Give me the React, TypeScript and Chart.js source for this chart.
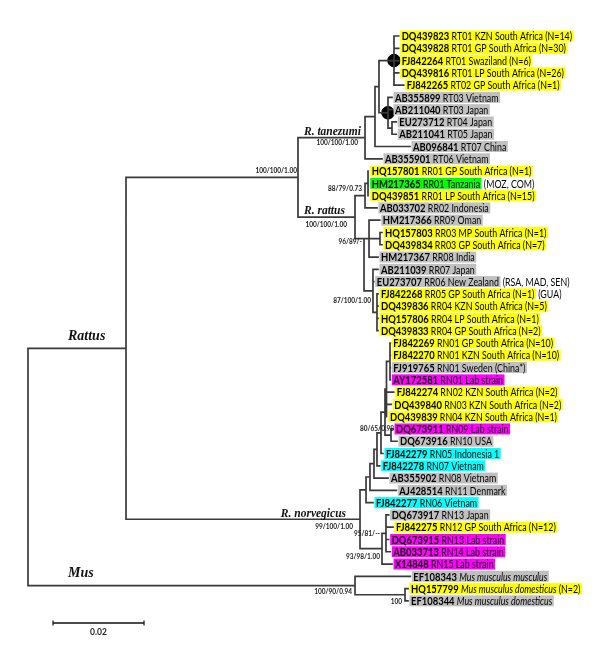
import React, { useEffect, useRef } from 'react';
import { Chart, registerables } from 'chart.js';

Chart.register(...registerables);

// ================= DATA =================
const leafAccessions: string[] = [
  'DQ439823', 'DQ439828', 'FJ842264', 'DQ439816', 'FJ842265', 'AB355899', 'AB211040', 'EU273712',
  'AB211041', 'AB096841', 'AB355901', 'HQ157801', 'HM217365', 'DQ439851', 'AB033702', 'HM217366',
  'HQ157803', 'DQ439834', 'HM217367', 'AB211039', 'EU273707', 'FJ842268', 'DQ439836', 'HQ157806',
  'DQ439833', 'FJ842269', 'FJ842270', 'FJ919765', 'AY172581', 'FJ842274', 'DQ439840', 'DQ439839',
  'DQ673911', 'DQ673916', 'FJ842279', 'FJ842278', 'AB355902', 'AJ428514', 'FJ842277', 'DQ673917',
  'FJ842275', 'DQ673915', 'AB033713', 'X14848', 'EF108343', 'HQ157799', 'EF108344',
];

const leafLabels: string[] = [
  'RT01 KZN South Africa (N=14)', 'RT01 GP South Africa (N=30)', 'RT01 Swaziland (N=6)',
  'RT01 LP South Africa (N=26)', 'RT02 GP South Africa (N=1)', 'RT03 Vietnam', 'RT03 Japan',
  'RT04 Japan', 'RT05 Japan', 'RT07 China', 'RT06 Vietnam', 'RR01 GP South Africa (N=1)',
  'RR01 Tanzania', 'RR01 LP South Africa (N=15)', 'RR02 Indonesia', 'RR09 Oman',
  'RR03 MP South Africa (N=1)', 'RR03 GP South Africa (N=7)', 'RR08 India', 'RR07 Japan',
  'RR06 New Zealand', 'RR05 GP South Africa (N=1)', 'RR04 KZN South Africa (N=5)',
  'RR04 LP South Africa (N=1)', 'RR04 GP South Africa (N=2)', 'RN01 GP South Africa (N=10)',
  'RN01 KZN South Africa (N=10)', 'RN01 Sweden (China*)', 'RN01 Lab strain',
  'RN02 KZN South Africa (N=2)', 'RN03 KZN South Africa (N=2)', 'RN04 KZN South Africa (N=1)',
  'RN09 Lab strain', 'RN10 USA', 'RN05 Indonesia 1', 'RN07 Vietnam', 'RN08 Vietnam',
  'RN11 Denmark', 'RN06 Vietnam', 'RN13 Japan', 'RN12 GP South Africa (N=12)', 'RN13 Lab strain',
  'RN14 Lab strain', 'RN15 Lab strain', 'Mus musculus musculus', 'Mus musculus domesticus',
  'Mus musculus domesticus',
];

const leafItalic: boolean[] = leafAccessions.map((_, i) => i >= 44);
const leafNotes: string[] = leafAccessions.map((_, i) => (i === 45 ? ' (N=2)' : ''));
const leafOutside: string[] = leafAccessions.map((_, i) =>
  i === 12 ? ' (MOZ, COM)' : i === 20 ? ' (RSA, MAD, SEN)' : i === 21 ? ' (GUA)' : ''
);

// SA = southern Africa sample, REF = reference, TZ = Tanzania, LAB = lab strain, SEA = SE Asia
const leafHighlight: string[] = [
  'SA', 'SA', 'SA', 'SA', 'SA', 'REF', 'REF', 'REF', 'REF', 'REF', 'REF', 'SA', 'TZ', 'SA', 'REF',
  'REF', 'SA', 'SA', 'REF', 'REF', 'REF', 'SA', 'SA', 'SA', 'SA', 'SA', 'SA', 'REF', 'LAB', 'SA',
  'SA', 'SA', 'LAB', 'REF', 'SEA', 'SEA', 'REF', 'REF', 'SEA', 'REF', 'SA', 'LAB', 'LAB', 'LAB',
  'REF', 'SA', 'REF',
];

const leafParent: string[] = [
  'D1', 'D1', 'D1', 'D1', 'D1', 'D2', 'D2', 'T45', 'T45', 'T1', 'T0', 'RR01', 'RR01', 'RR01', 'R1',
  'A', 'RR03', 'RR03', 'A', 'R3', 'R3', 'RR04', 'RR04', 'RR04', 'RR04', 'NL', 'NL', 'NL', 'NL',
  'NK', 'NK', 'NK', 'NJ', 'NJ', 'NG', 'NF', 'NE', 'ND', 'NA', 'NC', 'NC', 'NC', 'NC', 'NB', 'M0',
  'M1', 'M1',
];

const leafBranch: number[] = [
  0.00103, 0.00103, 0.00103, 0.00103, 0.00213, 0.00088, 0.00088, 0.00095, 0.00095, 0.0077, 0.00373,
  0.00015, 0.00015, 0.00015, 0.00263, 0.00235, 0.00044, 0.00044, 0.00197, 0.0011, 0.00016,
  0.00022, 0.00022, 0.00022, 0.00022, 0.00007, 0.00007, 0.00007, 0.00007, 0.00158, 0.00106,
  0.00011, 0.00044, 0.00132, 0.00044, 0.0006, 0.00308, 0.00579, 0.00153, 0.00059, 0.00154,
  0.00059, 0.00095, 0.0022, 0.01215, 0.00066, 0.00066,
];

const nodeIds: string[] = [
  'root', 'RAT', 'TR', 'T0', 'T1', 'T2', 'D1', 'D2', 'T45', 'R0', 'R1', 'RR01', 'N96', 'A', 'RR03',
  'R3', 'RR04', 'N0', 'NA', 'ND', 'NE', 'NF', 'NG', 'NH', 'NK', 'NL', 'NJ', 'NB', 'NC', 'M0', 'M1',
];
const nodeParent: string[] = [
  '', 'root', 'RAT', 'TR', 'T0', 'T1', 'T2', 'T2', 'D2', 'TR', 'R0', 'R1', 'R0', 'N96', 'A', 'N96',
  'R3', 'RAT', 'N0', 'NA', 'ND', 'NE', 'NF', 'NG', 'NH', 'NK', 'NH', 'N0', 'NB', 'root', 'M0',
];
const nodeBranch: number[] = [
  0, 0.02154, 0.0378, 0.01473, 0.00219, 0.00088, 0.0033, 0.00198, 0.00088, 0.01253, 0.0022,
  0.00066, 0.00198, 0.0011, 0.00241, 0.00197, 0.00088, 0.05143, 0.00132, 0.00087, 0.00088,
  0.00066, 0.00088, 0.00088, 0.00033, 0.00077, 0.00132, 0.00483, 0.00088, 0.07187, 0.01099,
];
const nodeSupport: string[] = [
  '', '', '100/100/1.00', '100/100/1.00', '', '', '', '', '', '100/100/1.00', '88/79/0.73', '',
  '96/89/-', '', '', '87/100/1.00', '', '99/100/1.00', '', '', '', '', '', '', '', '', '80/65/0.98',
  '93/98/1.00', '95/81/--', '100/90/0.94', '100',
];

const cladeNames: string[] = ['Rattus', 'R. tanezumi', 'R. rattus', 'R. norvegicus', 'Mus'];
const cladeNodes: string[] = ['RAT', 'T0', 'R0', 'N0', 'M0'];
const markedNodes: string[] = ['D1', 'D2'];
const scaleBarValue = 0.02;
const scaleBarText = '0.02';

// ================= STYLE / LAYOUT =================
const W = 600;
const H = 659;
const X_MIN = -0.006154;
const X_MAX = 0.125714;
const Y_MIN = -2.9316;
const Y_MAX = 50.733;
const BRANCH_COLOR = '#3a3a3a';
const HIGHLIGHT: Record<string, string> = {
  SA: '#ffff00',
  REF: '#c0c0c0',
  TZ: '#00ff00',
  LAB: '#ff00ff',
  SEA: '#00ffff',
};
const LABEL_FAMILY = 'Lato, "DejaVu Sans", sans-serif';
const LABEL_SIZE = 11.5;
const ID_SCALE_X = 0.82;
const NAME_SCALE_X = 0.77;
const SUPPORT_FONT = 'bold 7px Lato, "DejaVu Sans", sans-serif';
const SUPPORT_SCALE_X = 0.93;
const CLADE_FAMILY = '"Liberation Serif", "DejaVu Serif", serif';
const anchorFirstChild = ['N96'];
const supportPlacement: Record<string, [number, number]> = {
  TR: [-1, -6.5],
  T0: [-7, 5],
  R1: [-3, -7],
  R0: [-8, 8],
  N96: [-2, 3],
  R3: [-2, 10],
  NJ: [3, -6],
  N0: [-7, 7.5],
  NC: [-6, 0],
  NB: [-2, 8],
  M0: [-3, 6],
  M1: [-3, 7],
};
const cladePlacement: Record<string, { align: 'left' | 'right'; from: 'parent' | 'node'; dx: number; dy: number; size: number }> = {
  RAT: { align: 'left', from: 'parent', dx: 40, dy: -11.5, size: 14 },
  T0: { align: 'left', from: 'parent', dx: 6, dy: -6, size: 11.5 },
  R0: { align: 'left', from: 'parent', dx: 6, dy: -6.5, size: 11.5 },
  N0: { align: 'right', from: 'node', dx: -14, dy: -5, size: 11.5 },
  M0: { align: 'left', from: 'parent', dx: 40, dy: -12.5, size: 14 },
};
const SCALEBAR_X = 0.0055;
const SCALEBAR_Y = 47.8;

// ================= TREE LAYOUT =================
type TNode = {
  id: string;
  parent: string;
  branch: number;
  children: TNode[];
  depth: number;
  y: number;
  lo: number;
  hi: number;
  leaf: number;
};

function buildTree() {
  const nodes: Record<string, TNode> = {};
  nodeIds.forEach((id, i) => {
    nodes[id] = { id, parent: nodeParent[i], branch: nodeBranch[i], children: [], depth: 0, y: 0, lo: 0, hi: 0, leaf: -1 };
  });
  leafAccessions.forEach((_, i) => {
    const id = 'leaf' + i;
    nodes[id] = { id, parent: leafParent[i], branch: leafBranch[i], children: [], depth: 0, y: i, lo: i, hi: i, leaf: i };
  });
  Object.values(nodes).forEach((n) => {
    if (n.parent) nodes[n.parent].children.push(n);
  });
  const root = nodes[nodeIds[0]];
  const setDepth = (n: TNode, d: number) => {
    n.depth = d;
    n.children.forEach((c) => setDepth(c, d + c.branch));
  };
  setDepth(root, 0);
  const setY = (n: TNode): number => {
    if (n.leaf >= 0) return n.y;
    const ys = n.children.map(setY);
    n.lo = Math.min(...ys);
    n.hi = Math.max(...ys);
    n.y = anchorFirstChild.includes(n.id) ? n.lo : (n.lo + n.hi) / 2;
    return n.y;
  };
  setY(root);
  return nodes;
}

function scaledText(ctx: CanvasRenderingContext2D, text: string, x: number, y: number, sx: number) {
  ctx.save();
  ctx.translate(x, y);
  ctx.scale(sx, 1);
  ctx.fillText(text, 0, 0);
  ctx.restore();
}

export default function App() {
  const ref = useRef<HTMLCanvasElement>(null);

  useEffect(() => {
    const canvas = ref.current;
    if (!canvas) return;
    const nodes = buildTree();

    const branchPts: { x: number; y: number }[] = [];
    Object.values(nodes).forEach((n) => {
      if (n.leaf < 0) {
        branchPts.push({ x: n.depth, y: n.lo }, { x: n.depth, y: n.hi }, { x: NaN, y: NaN });
      }
      if (n.parent) {
        const p = nodes[n.parent];
        branchPts.push({ x: p.depth, y: n.y }, { x: n.depth, y: n.y }, { x: NaN, y: NaN });
      }
    });
    const dotPts = markedNodes.map((id) => ({ x: nodes[id].depth, y: nodes[id].y }));
    const scalePts = [
      { x: SCALEBAR_X, y: SCALEBAR_Y },
      { x: SCALEBAR_X + scaleBarValue, y: SCALEBAR_Y },
    ];

    const labelPlugin = {
      id: 'treeLabels',
      afterDatasetsDraw(chart: any) {
        const ctx: CanvasRenderingContext2D = chart.ctx;
        const xs = chart.scales.x;
        const ys = chart.scales.y;
        ctx.save();
        ctx.textBaseline = 'middle';
        ctx.textAlign = 'left';

        // leaf labels
        leafAccessions.forEach((acc, i) => {
          const n = nodes['leaf' + i];
          const tx = xs.getPixelForValue(n.depth);
          const ty = ys.getPixelForValue(i);
          const idFont = `bold ${LABEL_SIZE}px ${LABEL_FAMILY}`;
          const nameFont = `${leafItalic[i] ? 'italic ' : ''}${LABEL_SIZE}px ${LABEL_FAMILY}`;
          const regFont = `${LABEL_SIZE}px ${LABEL_FAMILY}`;
          ctx.font = idFont;
          const wId = ctx.measureText(acc).width * ID_SCALE_X;
          ctx.font = regFont;
          const wSp = ctx.measureText(' ').width * NAME_SCALE_X;
          const wNote = ctx.measureText(leafNotes[i]).width * NAME_SCALE_X;
          ctx.font = nameFont;
          const wName = ctx.measureText(leafLabels[i]).width * NAME_SCALE_X;
          const x0 = tx + 3;
          const total = wId + wSp + wName + wNote;
          const col = HIGHLIGHT[leafHighlight[i]];
          if (col) {
            ctx.fillStyle = col;
            ctx.fillRect(x0 - 1.5, ty - 5.5, total + 3, 11);
          }
          ctx.fillStyle = '#000';
          ctx.font = idFont;
          scaledText(ctx, acc, x0, ty + 0.5, ID_SCALE_X);
          ctx.font = nameFont;
          scaledText(ctx, leafLabels[i], x0 + wId + wSp, ty + 0.5, NAME_SCALE_X);
          if (leafNotes[i]) {
            ctx.font = regFont;
            scaledText(ctx, leafNotes[i], x0 + wId + wSp + wName, ty + 0.5, NAME_SCALE_X);
          }
          if (leafOutside[i]) {
            ctx.font = regFont;
            scaledText(ctx, leafOutside[i], x0 + total + 1.5, ty + 0.5, NAME_SCALE_X);
          }
        });

        // support values (right-aligned)
        ctx.font = SUPPORT_FONT;
        ctx.fillStyle = '#222';
        nodeIds.forEach((id, i) => {
          const s = nodeSupport[i];
          if (!s) return;
          const n = nodes[id];
          const pl = supportPlacement[id] || [-3, 6];
          const w = ctx.measureText(s).width * SUPPORT_SCALE_X;
          scaledText(ctx, s, xs.getPixelForValue(n.depth) + pl[0] - w, ys.getPixelForValue(n.y) + pl[1], SUPPORT_SCALE_X);
        });

        // clade names
        cladeNodes.forEach((id, i) => {
          const n = nodes[id];
          const pl = cladePlacement[id];
          const r = pl.from === 'parent' ? nodes[n.parent] : n;
          ctx.font = `italic bold ${pl.size}px ${CLADE_FAMILY}`;
          ctx.fillStyle = '#111';
          ctx.textAlign = pl.align;
          ctx.fillText(cladeNames[i], xs.getPixelForValue(r.depth) + pl.dx, ys.getPixelForValue(n.y) + pl.dy);
        });

        // scale bar ticks and label
        const sx0 = xs.getPixelForValue(SCALEBAR_X);
        const sx1 = xs.getPixelForValue(SCALEBAR_X + scaleBarValue);
        const sy = ys.getPixelForValue(SCALEBAR_Y);
        ctx.strokeStyle = '#111';
        ctx.lineWidth = 1.2;
        ctx.beginPath();
        ctx.moveTo(sx0, sy - 2.5);
        ctx.lineTo(sx0, sy + 2.5);
        ctx.moveTo(sx1, sy - 2.5);
        ctx.lineTo(sx1, sy + 2.5);
        ctx.stroke();
        ctx.font = 'bold 8.5px Lato, "DejaVu Sans", sans-serif';
        ctx.fillStyle = '#222';
        ctx.textAlign = 'center';
        ctx.fillText(scaleBarText, (sx0 + sx1) / 2, sy + 9.5);
        ctx.restore();
      },
    };

    const chart = new Chart(canvas, {
      type: 'line',
      data: {
        datasets: [
          {
            type: 'line',
            data: branchPts,
            borderColor: BRANCH_COLOR,
            borderWidth: 1.7,
            borderCapStyle: 'square',
            pointRadius: 0,
            tension: 0,
            spanGaps: false,
            fill: false,
          } as any,
          {
            type: 'scatter',
            data: dotPts,
            pointRadius: 6.3,
            backgroundColor: '#000',
            borderColor: '#000',
            showLine: false,
          } as any,
          {
            type: 'line',
            data: scalePts,
            borderColor: '#111',
            borderWidth: 1.4,
            pointRadius: 0,
            fill: false,
          } as any,
        ],
      },
      options: {
        animation: false,
        responsive: false,
        devicePixelRatio: 1,
        events: [],
        layout: { padding: 0, autoPadding: false },
        plugins: { legend: { display: false }, tooltip: { enabled: false } },
        scales: {
          x: { type: 'linear', min: X_MIN, max: X_MAX, display: false },
          y: { type: 'linear', min: Y_MIN, max: Y_MAX, reverse: true, display: false },
        },
      } as any,
      plugins: [labelPlugin],
    });
    return () => chart.destroy();
  }, []);

  return (
    <div style={{ position: 'fixed', left: 0, top: 0, width: W, height: H, background: '#fff' }}>
      <canvas ref={ref} width={W} height={H} style={{ display: 'block', width: W, height: H }} />
    </div>
  );
}
